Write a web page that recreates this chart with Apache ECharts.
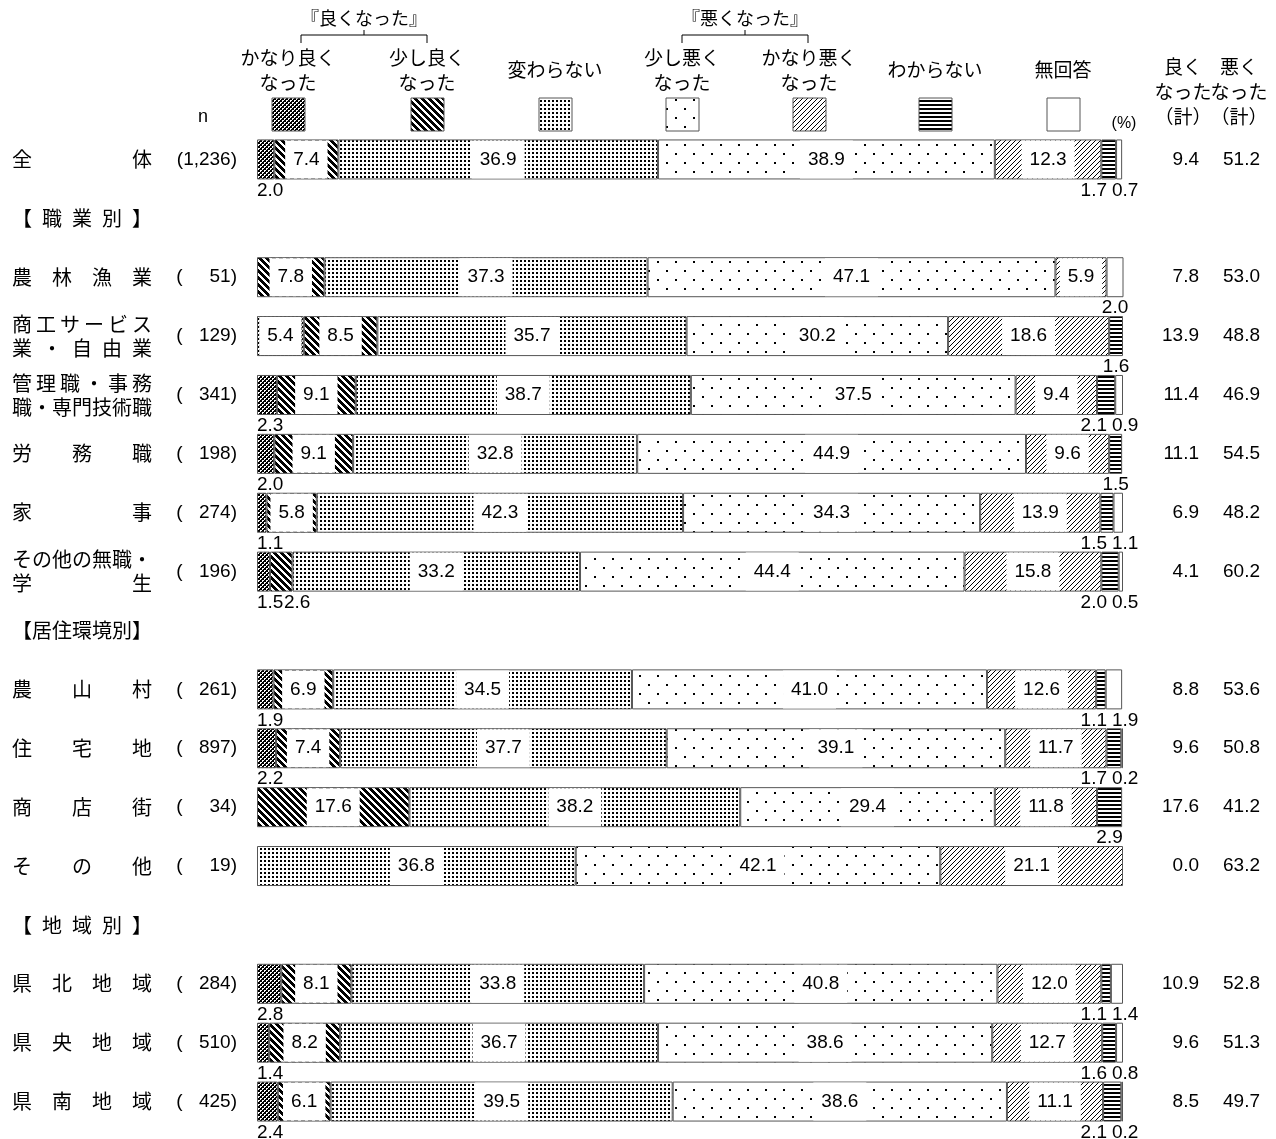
<!DOCTYPE html>
<html lang="ja">
<head>
<meta charset="utf-8">
<title>暮らし向きの変化</title>
<script src="https://cdn.jsdelivr.net/npm/echarts@6/dist/echarts.min.js"></script>
<style>
  html, body { margin: 0; padding: 0; background: #fff; }
  #chart { width: 1276px; height: 1139px; }
</style>
</head>
<body>
<div id="chart"></div>
<script>
// ---- data ----
const categories = [
  '全体', '【職業別】', '農林漁業', '商工サービス\n業・自由業', '管理職・事務\n職・専門技術職',
  '労務職', '家事', 'その他の無職・\n学生', '【居住環境別】', '農山村', '住宅地', '商店街',
  'その他', '【地域別】', '県北地域', '県央地域', '県南地域'
];
const sampleSizes = ['1,236', '', '51', '129', '341', '198', '274', '196', '', '261', '897', '34', '19', '', '284', '510', '425'];

const seriesNames = ['かなり良くなった', '少し良くなった', '変わらない', '少し悪くなった', 'かなり悪くなった', 'わからない', '無回答'];
const muchBetter   = [2.0, null, 0,    5.4,  2.3,  2.0,  1.1,  1.5,  null, 1.9,  2.2,  0,    0,    null, 2.8,  1.4,  2.4];
const bitBetter    = [7.4, null, 7.8,  8.5,  9.1,  9.1,  5.8,  2.6,  null, 6.9,  7.4,  17.6, 0,    null, 8.1,  8.2,  6.1];
const unchanged    = [36.9, null, 37.3, 35.7, 38.7, 32.8, 42.3, 33.2, null, 34.5, 37.7, 38.2, 36.8, null, 33.8, 36.7, 39.5];
const bitWorse     = [38.9, null, 47.1, 30.2, 37.5, 44.9, 34.3, 44.4, null, 41.0, 39.1, 29.4, 42.1, null, 40.8, 38.6, 38.6];
const muchWorse    = [12.3, null, 5.9,  18.6, 9.4,  9.6,  13.9, 15.8, null, 12.6, 11.7, 11.8, 21.1, null, 12.0, 12.7, 11.1];
const dontKnow     = [1.7, null, 0,    1.6,  2.1,  1.5,  1.5,  2.0,  null, 1.1,  1.7,  2.9,  0,    null, 1.1,  1.6,  2.1];
const noAnswer     = [0.7, null, 2.0,  0,    0.9,  0,    1.1,  0.5,  null, 1.9,  0.2,  0,    0,    null, 1.4,  0.8,  0.2];
const seriesValues = [muchBetter, bitBetter, unchanged, bitWorse, muchWorse, dontKnow, noAnswer];

const betterTotal = ['9.4', '', '7.8', '13.9', '11.4', '11.1', '6.9', '4.1', '', '8.8', '9.6', '17.6', '0.0', '', '10.9', '9.6', '8.5'];
const worseTotal  = ['51.2', '', '53.0', '48.8', '46.9', '54.5', '48.2', '60.2', '', '53.6', '50.8', '41.2', '63.2', '', '52.8', '51.3', '49.7'];

// ---- look ----
const JP = "'Noto Sans CJK JP', sans-serif";
const NUM = "'Liberation Sans', 'Noto Sans CJK JP', sans-serif";
const GRID = { left: 257, right: 153, top: 130, bottom: 8 };
const BAR_END = 1276 - GRID.right;
const INSIDE_MIN = 5;      // smaller segments get their value printed under the bar

// monochrome fill tiles
function tile(w, h, isInk) {
  const c = document.createElement('canvas');
  c.width = w; c.height = h;
  const ctx = c.getContext('2d');
  const img = ctx.createImageData(w, h);
  for (let y = 0; y < h; y++) {
    for (let x = 0; x < w; x++) {
      const k = (y * w + x) * 4;
      const v = isInk(x, y) ? 0 : 255;
      img.data[k] = img.data[k + 1] = img.data[k + 2] = v;
      img.data[k + 3] = 255;
    }
  }
  ctx.putImageData(img, 0, 0);
  return { image: c, repeat: 'repeat' };
}
const fills = [
  tile(4, 4, (x, y) => (((x >> 1) + (y >> 1)) % 2 === 0) || (x % 2 === 1 && y % 2 === 1)),
  tile(7, 7, (x, y) => (((x - y) % 7) + 7) % 7 < 4),
  tile(4, 4, (x, y) => x < 2 && y < 2),
  tile(18, 18, (x, y) => (x < 2 && y < 2) || (x >= 9 && x < 11 && y >= 9 && y < 11)),
  tile(5, 5, (x, y) => (x + y) % 5 === 0),
  tile(4, 4, (x, y) => y % 4 < 2),
  '#ffffff'
];

// names spread evenly across a fixed width, one glyph box per character
const NAME_W = 140, CH = 20;
const nameRich = { c: { width: CH, align: 'center', fontSize: 20, lineHeight: 24, fontFamily: JP, color: '#000' } };
for (let n = 2; n <= 6; n++) {
  nameRich['g' + n] = { width: (NAME_W - n * CH) / (n - 1), fontSize: 20, lineHeight: 24 };
}
function justifyLine(line) {
  const chars = Array.from(line);
  const n = chars.length;
  return chars.map((ch, k) =>
    '{c|' + ch + '}' + (k < n - 1 && n <= 6 ? '{g' + n + '| }' : '')).join('');
}
function justifyName(name) {
  return name.split('\n').map(justifyLine).join('\n');
}

const insideLabel = {
  show: true,
  position: 'inside',
  color: '#000',
  fontSize: 19,
  fontFamily: NUM,
  lineHeight: 20,
  backgroundColor: '#fff',
  padding: [9, 8],
  formatter: p => (typeof p.value === 'number' ? p.value.toFixed(1) : '')
};
const belowLabel = { backgroundColor: 'transparent', padding: 0, position: 'bottom' };

function buildData(values) {
  return values.map(v => {
    if (v === null || v === 0) return '-';
    if (v < INSIDE_MIN) return { value: v, label: belowLabel };
    return v;
  });
}

function layoutSmall(p) {
  const s = p.seriesIndex, i = p.dataIndex;
  const v = seriesValues[s][i];
  if (!(v > 0) || v >= INSIDE_MIN) return;
  const r = p.rect;
  let x = r.x + r.width / 2, align = 'center';
  if (s === 0) { x = r.x; align = 'left'; }
  else if (s === 1) { x = r.x + 14; align = 'left'; }
  else if (s === 5 && noAnswer[i] > 0) { x = BAR_END - 16; align = 'right'; }
  else if (s === 6 && dontKnow[i] > 0) { x = BAR_END - 11; align = 'left'; }
  return { x: x, y: r.y + r.height + 1, align: align, verticalAlign: 'top' };
}

const series = seriesValues.map((vals, s) => ({
  name: seriesNames[s],
  type: 'bar',
  stack: 'total',
  barWidth: 40,
  data: buildData(vals),
  itemStyle: { color: fills[s], borderColor: '#555', borderWidth: 1 },
  label: insideLabel,
  labelLayout: layoutSmall,
  emphasis: { disabled: true },
  animation: false
}));

// ---- header: legend swatches and captions ----
const legendItems = [
  { x: 288,  text: 'かなり良く\nなった' },
  { x: 427,  text: '少し良く\nなった' },
  { x: 555,  text: '変わらない' },
  { x: 682,  text: '少し悪く\nなった' },
  { x: 809,  text: 'かなり悪く\nなった' },
  { x: 935,  text: 'わからない' },
  { x: 1063, text: '無回答' }
];
const graphic = [];
legendItems.forEach((it, s) => {
  graphic.push({
    type: 'rect', shape: { x: it.x - 16, y: 98, width: 33, height: 33 },
    style: { fill: fills[s], stroke: '#555', lineWidth: 1 }
  });
  graphic.push({
    type: 'text', x: it.x, y: 70,
    style: { text: it.text, fontSize: 19, fontFamily: JP, fill: '#000', align: 'center', verticalAlign: 'middle', lineHeight: 25 }
  });
});
function bracket(x1, x2, mid, label) {
  graphic.push({
    type: 'polyline', shape: { points: [[x1, 43], [x1, 35], [x2, 35], [x2, 43]] },
    style: { stroke: '#000', lineWidth: 1, fill: null }
  });
  graphic.push({
    type: 'line', shape: { x1: mid, y1: 35, x2: mid, y2: 30 },
    style: { stroke: '#000', lineWidth: 1 }
  });
  graphic.push({
    type: 'text', x: mid, y: 18,
    style: { text: label, fontSize: 18, fontFamily: JP, fill: '#000', align: 'center', verticalAlign: 'middle' }
  });
}
bracket(301, 427, 364, '『良くなった』');
bracket(682, 808, 745, '『悪くなった』');
graphic.push({ type: 'text', x: 203, y: 117, style: { text: 'n', fontSize: 18, fontFamily: NUM, fill: '#000', align: 'center', verticalAlign: 'middle' } });
graphic.push({ type: 'text', x: 1124, y: 124, style: { text: '(%)', fontSize: 16, fontFamily: NUM, fill: '#000', align: 'center', verticalAlign: 'middle' } });
graphic.push({ type: 'text', x: 1183, y: 92, style: { text: '良く\nなった\n（計）', fontSize: 19, fontFamily: JP, fill: '#000', align: 'center', verticalAlign: 'middle', lineHeight: 25 } });
graphic.push({ type: 'text', x: 1239, y: 92, style: { text: '悪く\nなった\n（計）', fontSize: 19, fontFamily: JP, fill: '#000', align: 'center', verticalAlign: 'middle', lineHeight: 25 } });

const hiddenAxisParts = { axisLine: { show: false }, axisTick: { show: false }, splitLine: { show: false } };

const option = {
  backgroundColor: '#fff',
  animation: false,
  grid: Object.assign({ containLabel: false, outerBoundsMode: 'none' }, GRID),
  xAxis: { type: 'value', min: 0, max: 100, show: false },
  yAxis: [
    Object.assign({
      type: 'category', data: categories, inverse: true, position: 'left',
      axisLabel: { interval: 0, align: 'left', margin: 245, formatter: v => justifyName(v), rich: nameRich }
    }, hiddenAxisParts),
    Object.assign({
      type: 'category', data: categories, inverse: true, position: 'left',
      axisLabel: {
        interval: 0, align: 'right', margin: 20,
        formatter: (v, i) => {
          const n = sampleSizes[i];
          if (!n) return '';
          return n.length > 4 ? '{p|(}{w|' + n + '}{p|)}' : '{p|(}{n|' + n + '}{p|)}';
        },
        rich: {
          p: { fontSize: 19, fontFamily: NUM, color: '#000' },
          n: { fontSize: 19, fontFamily: NUM, color: '#000', width: 48, align: 'right' },
          w: { fontSize: 19, fontFamily: NUM, color: '#000' }
        }
      }
    }, hiddenAxisParts),
    Object.assign({
      type: 'category', data: categories, inverse: true, position: 'right',
      axisLabel: {
        interval: 0, align: 'left', margin: 26,
        formatter: (v, i) => (betterTotal[i] ? '{a|' + betterTotal[i] + '}{b|' + worseTotal[i] + '}' : ''),
        rich: {
          a: { fontSize: 19, fontFamily: NUM, color: '#000', width: 50, align: 'right' },
          b: { fontSize: 19, fontFamily: NUM, color: '#000', width: 61, align: 'right' }
        }
      }
    }, hiddenAxisParts)
  ],
  series: series,
  graphic: graphic
};

const chart = echarts.init(document.getElementById('chart'), null, { renderer: 'canvas' });
chart.setOption(option);
</script>
</body>
</html>
